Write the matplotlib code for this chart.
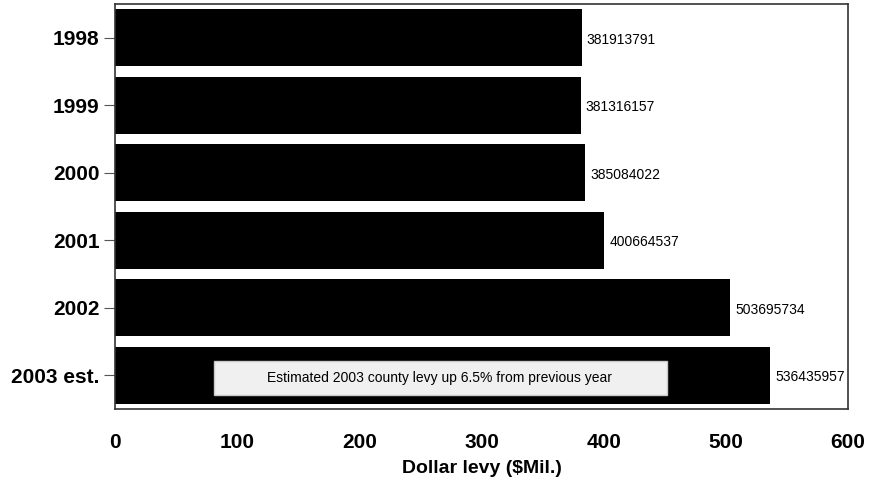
import matplotlib.pyplot as plt
from matplotlib.patches import Rectangle

plt.rcParams['font.family'] = ['Liberation Sans', 'DejaVu Sans']

years = ['1998', '1999', '2000', '2001', '2002', '2003 est.']
levy = [381913791, 381316157, 385084022, 400664537, 503695734, 536435957]
levy_mil = [v / 1e6 for v in levy]
note = 'Estimated 2003 county levy up 6.5% from previous year'

fig = plt.figure(figsize=(8.7, 4.86), dpi=100)
ax = fig.add_axes([115 / 870, 1 - 409 / 486, 733 / 870, 405 / 486])

pos = range(len(years))
ax.barh(pos, levy_mil, height=0.85, color='black')
for p, v, raw in zip(pos, levy_mil, levy):
    ax.text(v + 4, p + 0.03, str(raw), va='center', ha='left', fontsize=10, clip_on=False)

ax.set_xlim(0, 600)
ax.set_ylim(len(years) - 0.5, -0.5)
ax.set_yticks(list(pos))
ax.set_yticklabels(years, fontsize=15, fontweight='bold')
ax.set_xticks(range(0, 601, 100))
ax.set_xticklabels([str(t) for t in range(0, 601, 100)], fontsize=15, fontweight='bold')
ax.tick_params(axis='x', length=0, pad=17)
ax.tick_params(axis='y', length=8, color='#555555', pad=3)
ax.set_xlabel('Dollar levy ($Mil.)', fontsize=14, fontweight='bold', labelpad=6)
for s in ax.spines.values():
    s.set_color('#333333')
    s.set_linewidth(1.2)

# note box over the last bar
ax.add_patch(Rectangle((81, 4.79), 371, 0.51, facecolor='#f0f0f0', edgecolor='#c8c8c8', linewidth=1, zorder=3))
ax.text(266, 5.04, note, ha='center', va='center', fontsize=10, zorder=4)

fig.savefig('out.png', dpi=100)
